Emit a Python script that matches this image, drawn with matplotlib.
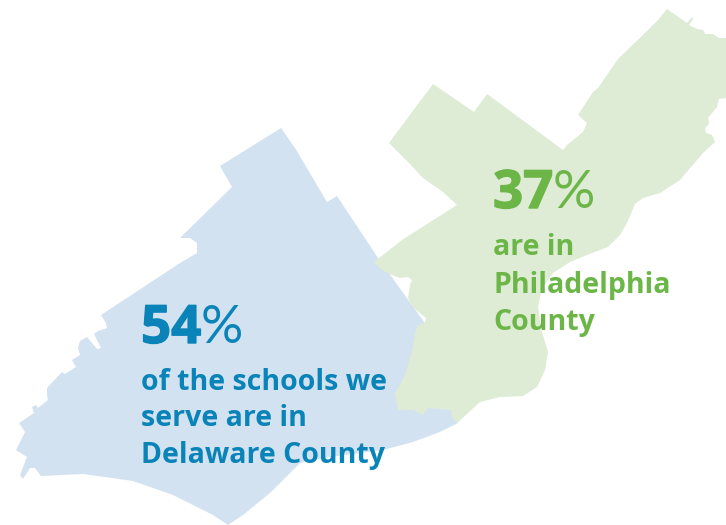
import matplotlib
matplotlib.use("Agg")
import matplotlib.pyplot as plt
import matplotlib.patheffects as pe
from matplotlib.patches import Polygon

delaware_outline = [(281,128),(295,148),(327,202),(337,196),(378,258),(430,330),(458,423),(440,432),(413,442),
 (383,450),(330,457),(300,463),(270,493),(243,515),(228,525),(213,515),(173,495),(133,481),(83,474),(41,476),
 (35,468),(30,468),(23,479),(20,475),(27,457),(16,450),(25,432),(19,423),(34,413),(32,407),(36,405),(38,408),
 (48,400),(47,395),(47,388),(62,372),(65,374),(76,367),(72,360),(80,355),(78,348),(80,341),(87,337),(97,349),
 (101,348),(94,334),(98,331),(107,328),(106,323),(101,315),(180,263),(197,253),(197,243),(190,238),(180,238),
 (232,187),(220,166)]
philadelphia_outline = [(374,262),(402,240),(457,205),(443,192),(423,178),(408,162),(389,143),(433,84),(474,112),
 (487,94),(563,150),(567,145),(583,132),(587,123),(578,115),(593,92),(598,88),(618,59),(648,30),(658,20),(667,9),
 (687,23),(692,17),(693,19),(689,25),(697,29),(703,30),(705,34),(713,34),(719,38),(726,38),(726,98),(719,99),
 (717,107),(708,118),(709,124),(705,128),(706,133),(712,135),(715,142),(703,153),(680,180),(660,193),(643,198),
 (635,204),(627,223),(620,235),(608,247),(587,255),(570,262),(553,273),(542,288),(538,307),(542,332),(548,352),
 (545,370),(537,387),(523,396),(500,397),(480,402),(457,423),(452,417),(451,410),(428,408),(423,415),(413,410),
 (398,410),(395,393),(405,375),(410,358),(413,347),(415,333),(418,325),(425,323),(426,318),(422,315),(413,307),
 (408,298),(410,285),(412,280),(408,277),(400,278),(392,275),(382,270)]
delaware_pct = "54"
philadelphia_pct = "37"
delaware_lines = ["of the schools we", "serve are in", "Delaware County"]
philadelphia_lines = ["are in", "Philadelphia", "County"]

BLUE_FILL, GREEN_FILL = "#d3e2f0", "#deebd5"
BLUE, GREEN = "#0a84b8", "#6cb648"
FONT = "Open Sans"

fig = plt.figure(figsize=(7.26, 5.25), dpi=100)
ax = fig.add_axes([0, 0, 1, 1])
ax.set_xlim(0, 726)
ax.set_ylim(525, 0)
ax.axis("off")
ax.add_patch(Polygon(delaware_outline, closed=True, fc=BLUE_FILL, ec="none", zorder=1))
ax.add_patch(Polygon(philadelphia_outline, closed=True, fc=GREEN_FILL, ec="none", zorder=2))

def block(x, y_pct, pct, lines, baselines, color, pct_gap):
    t = ax.text(x, y_pct, pct, color=color, family=FONT, weight="bold", fontsize=38, va="baseline", zorder=3)
    t.set_path_effects([pe.withStroke(linewidth=1.0, foreground=color)])
    ax.text(x + pct_gap, y_pct, "%", color=color, family="Lato", weight="normal", fontsize=38, va="baseline", zorder=3)
    for s, b in zip(lines, baselines):
        ax.text(x, b, s, color=color, family=FONT, weight="bold", fontsize=20.5, va="baseline", zorder=3)

block(141, 343, delaware_pct, delaware_lines, [390, 426, 463], BLUE, 60)
block(493, 208, philadelphia_pct, philadelphia_lines, [255, 293, 330], GREEN, 60)

fig.savefig("out.png", dpi=100)
